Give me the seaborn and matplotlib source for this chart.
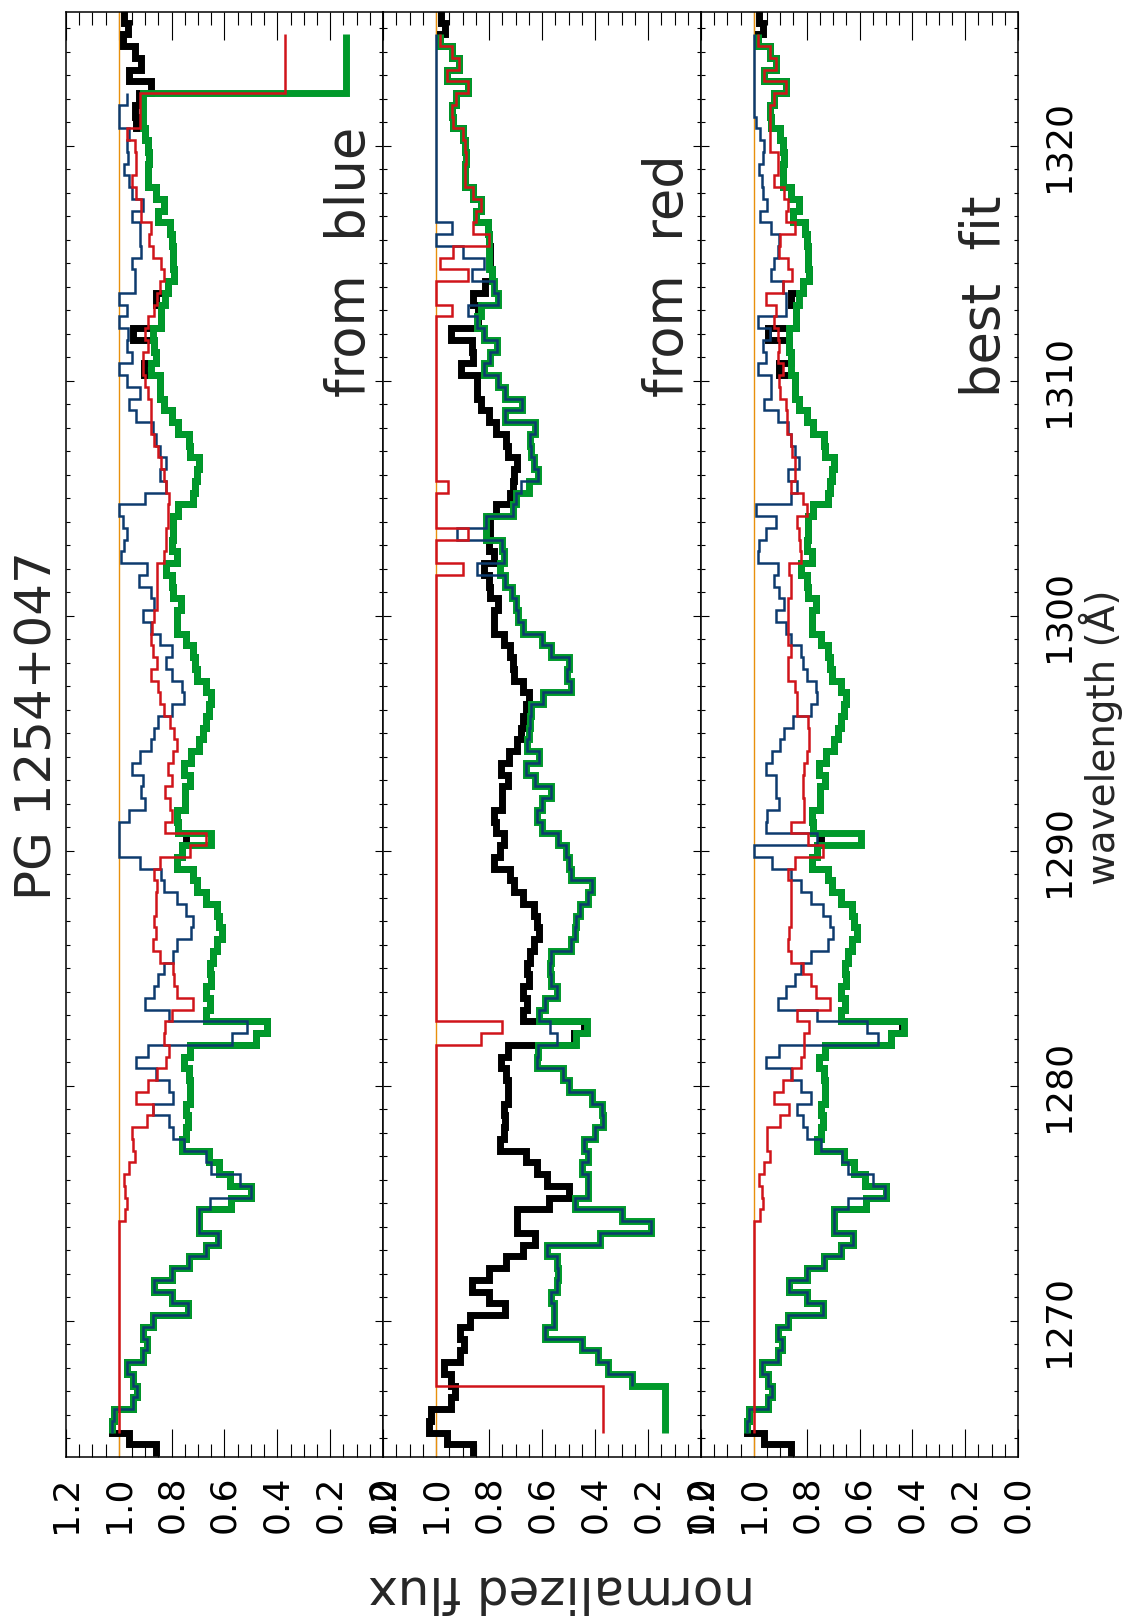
import numpy as np
import matplotlib
matplotlib.use("Agg")
import matplotlib.pyplot as plt
from matplotlib.ticker import MultipleLocator, FormatStrFormatter
import seaborn as sns

nan = np.nan

# ---------------- wavelength grid (bin centres, Angstrom), red -> blue ----------------
wave_first = 1325.5
wave_last = 1264.5
wave_bin = 0.5
wavelength = np.arange(wave_first, wave_last - wave_bin / 2, -wave_bin)

continuum_level = 1.0

# ---------------- observed normalized flux (black) ----------------
observed_flux = [
    0.98, 0.965, 0.985, 0.94, 0.915, 0.96, 0.88, 0.925, 0.94, 0.935,
    0.90, 0.89, 0.885, 0.89, 0.89, 0.86, 0.83, 0.85, 0.805, 0.80,
    0.795, 0.795, 0.79, 0.815, 0.86, 0.84, 0.84, 0.945, 0.865, 0.86,
    0.905, 0.845, 0.845, 0.83, 0.80, 0.775, 0.735, 0.73, 0.695, 0.705,
    0.71, 0.72, 0.775, 0.795, 0.795, 0.80, 0.78, 0.82, 0.80, 0.795,
    0.765, 0.78, 0.78, 0.745, 0.72, 0.71, 0.705, 0.67, 0.65, 0.66,
    0.67, 0.68, 0.695, 0.725, 0.755, 0.73, 0.75, 0.75, 0.78, 0.775,
    0.745, 0.76, 0.78, 0.72, 0.705, 0.67, 0.63, 0.62, 0.61, 0.63,
    0.645, 0.655, 0.65, 0.67, 0.655, 0.67, 0.44, 0.48, 0.73, 0.755,
    0.735, 0.73, 0.73, 0.745, 0.74, 0.745, 0.76, 0.66, 0.62, 0.58,
    0.50, 0.575, 0.695, 0.695, 0.625, 0.67, 0.735, 0.80, 0.865, 0.80,
    0.74, 0.87, 0.91, 0.895, 0.91, 0.97, 0.945, 0.93, 0.945, 1.02,
    1.025, 0.96, 0.86]

# ---------------- panel 1: "from blue" ----------------
fromblue_total = [
    nan, nan, 0.14, 0.14, 0.14, 0.14, 0.14, 0.91, 0.91, 0.91,
    0.90, 0.89, 0.885, 0.89, 0.89, 0.86, 0.83, 0.85, 0.805, 0.80,
    0.795, 0.795, 0.79, 0.815, 0.825, 0.84, 0.84, 0.87, 0.865, 0.86,
    0.88, 0.845, 0.845, 0.83, 0.80, 0.775, 0.735, 0.73, 0.695, 0.705,
    0.71, 0.72, 0.775, 0.795, 0.795, 0.80, 0.78, 0.82, 0.80, 0.795,
    0.765, 0.78, 0.78, 0.745, 0.72, 0.71, 0.705, 0.67, 0.65, 0.66,
    0.67, 0.68, 0.695, 0.725, 0.755, 0.73, 0.75, 0.75, 0.78, 0.775,
    0.65, 0.76, 0.78, 0.72, 0.705, 0.67, 0.63, 0.62, 0.61, 0.63,
    0.645, 0.655, 0.65, 0.67, 0.655, 0.67, 0.44, 0.48, 0.73, 0.755,
    0.735, 0.73, 0.73, 0.745, 0.74, 0.745, 0.76, 0.66, 0.62, 0.58,
    0.50, 0.575, 0.695, 0.695, 0.625, 0.67, 0.735, 0.80, 0.865, 0.80,
    0.74, 0.87, 0.91, 0.895, 0.91, 0.97, 0.945, 0.93, 0.945, 1.02,
    1.025, nan, nan]
fromblue_navy = [
    nan, nan, nan, nan, nan, nan, nan, 0.97, 1.0, 1.0,
    0.96, 0.97, 0.965, 0.98, 0.96, 0.95, 0.91, 0.95, 0.92, 0.92,
    0.915, 0.95, 0.94, 0.94, 1.0, 0.97, 1.0, 0.965, 0.97, 0.95,
    1.0, 0.97, 0.92, 0.96, 0.935, 0.87, 0.86, 0.845, 0.82, 0.845,
    0.82, 0.90, 1.0, 0.985, 0.97, 0.98, 0.99, 0.895, 0.925, 0.88,
    0.865, 0.91, 0.88, 0.845, 0.80, 0.82, 0.80, 0.76, 0.755, 0.80,
    0.85, 0.865, 0.88, 0.92, 0.95, 0.91, 0.915, 0.90, 0.96, 1.0,
    1.0, 1.0, 0.92, 0.84, 0.83, 0.78, 0.745, 0.72, 0.725, 0.78,
    0.795, 0.83, 0.85, 0.865, 0.90, 0.81, 0.515, 0.57, 0.89, 0.935,
    0.86, 0.81, 0.795, 0.87, 0.81, 0.795, 0.755, 0.67, 0.65, 0.54,
    0.50, 0.655, 0.695, 0.695, 0.625, 0.67, 0.735, 0.80, 0.865, 0.80,
    0.74, 0.87, 0.91, 0.895, 0.91, 0.97, 0.945, 0.93, 0.945, 1.02,
    1.025, nan, nan]
fromblue_red = [
    nan, nan, 0.37, 0.37, 0.37, 0.37, 0.37, 0.92, 0.92, 0.92,
    0.97, 0.94, 0.935, 0.935, 0.95, 0.935, 0.915, 0.915, 0.88, 0.885,
    0.87, 0.84, 0.83, 0.845, 0.855, 0.865, 0.89, 0.90, 0.89, 0.91,
    0.91, 0.90, 0.89, 0.88, 0.88, 0.88, 0.865, 0.85, 0.84, 0.83,
    0.82, 0.81, 0.815, 0.815, 0.82, 0.82, 0.83, 0.855, 0.855, 0.855,
    0.855, 0.865, 0.875, 0.88, 0.87, 0.855, 0.88, 0.85, 0.845, 0.83,
    0.805, 0.79, 0.78, 0.795, 0.815, 0.80, 0.825, 0.805, 0.80, 0.825,
    0.67, 0.73, 0.845, 0.865, 0.855, 0.86, 0.86, 0.865, 0.86, 0.87,
    0.845, 0.795, 0.79, 0.78, 0.72, 0.80, 0.825, 0.83, 0.81, 0.82,
    0.855, 0.89, 0.935, 0.87, 0.895, 0.95, 0.945, 0.94, 0.96, 0.98,
    0.975, 0.97, 0.975, 1.0, 1.0, 1.0, 1.0, 1.0, 1.0, 1.0,
    1.0, 1.0, 1.0, 1.0, 1.0, 1.0, 1.0, 1.0, 1.0, 1.0,
    1.0, nan, nan]

# ---------------- panel 2: "from red" ----------------
fromred_total = [
    nan, nan, 0.985, 0.94, 0.915, 0.96, 0.88, 0.925, 0.94, 0.935,
    0.90, 0.89, 0.885, 0.89, 0.89, 0.86, 0.83, 0.85, 0.805, 0.80,
    0.80, 0.80, 0.79, 0.78, 0.765, 0.83, 0.845, 0.82, 0.77, 0.795,
    0.82, 0.765, 0.74, 0.675, 0.74, 0.625, 0.645, 0.64, 0.63, 0.615,
    0.65, 0.70, 0.71, 0.81, 0.81, 0.75, 0.745, 0.76, 0.74, 0.715,
    0.70, 0.69, 0.67, 0.60, 0.565, 0.50, 0.505, 0.49, 0.595, 0.64,
    0.645, 0.65, 0.655, 0.61, 0.66, 0.625, 0.565, 0.60, 0.62, 0.60,
    0.54, 0.51, 0.50, 0.49, 0.41, 0.425, 0.455, 0.47, 0.475, 0.49,
    0.565, 0.57, 0.565, 0.545, 0.59, 0.61, 0.43, 0.47, 0.615, 0.62,
    0.52, 0.50, 0.41, 0.375, 0.37, 0.40, 0.44, 0.425, 0.45, 0.425,
    0.425, 0.475, 0.30, 0.19, 0.38, 0.58, 0.545, 0.54, 0.545, 0.565,
    0.555, 0.555, 0.59, 0.45, 0.39, 0.35, 0.26, 0.136, 0.136, 0.136,
    0.136, nan, nan]
fromred_navy = [
    nan, nan, 1.0, 1.0, 1.0, 1.0, 1.0, 1.0, 1.0, 1.0,
    1.0, 1.0, 1.0, 1.0, 1.0, 1.0, 1.0, 1.0, 0.94, 1.0,
    0.90, 0.82, 0.865, 0.78, 0.765, 0.88, 0.845, 0.82, 0.77, 0.795,
    0.82, 0.765, 0.74, 0.675, 0.74, 0.625, 0.645, 0.64, 0.63, 0.615,
    0.68, 0.70, 0.71, 0.81, 0.92, 0.75, 0.745, 0.845, 0.74, 0.715,
    0.70, 0.69, 0.67, 0.60, 0.565, 0.50, 0.505, 0.49, 0.595, 0.64,
    0.645, 0.65, 0.655, 0.61, 0.66, 0.625, 0.565, 0.60, 0.62, 0.60,
    0.54, 0.51, 0.50, 0.49, 0.41, 0.425, 0.455, 0.47, 0.475, 0.49,
    0.565, 0.57, 0.565, 0.545, 0.59, 0.61, 0.57, 0.545, 0.615, 0.62,
    0.52, 0.50, 0.41, 0.375, 0.37, 0.40, 0.44, 0.425, 0.45, 0.425,
    0.425, 0.475, 0.30, 0.19, 0.38, 0.58, 0.545, 0.54, 0.545, 0.565,
    0.555, 0.555, 0.59, 0.45, 0.39, 0.35, 0.26, nan, nan, nan,
    nan, nan, nan]
fromred_red = [
    nan, nan, 0.985, 0.94, 0.915, 0.96, 0.88, 0.925, 0.94, 0.935,
    0.90, 0.89, 0.885, 0.89, 0.89, 0.86, 0.83, 0.85, 0.86, 0.80,
    0.935, 0.985, 0.88, 1.0, 1.0, 0.94, 1.0, 1.0, 1.0, 1.0,
    1.0, 1.0, 1.0, 1.0, 1.0, 1.0, 1.0, 1.0, 1.0, 1.0,
    0.955, 1.0, 1.0, 1.0, 0.88, 1.0, 1.0, 0.90, 1.0, 1.0,
    1.0, 1.0, 1.0, 1.0, 1.0, 1.0, 1.0, 1.0, 1.0, 1.0,
    1.0, 1.0, 1.0, 1.0, 1.0, 1.0, 1.0, 1.0, 1.0, 1.0,
    1.0, 1.0, 1.0, 1.0, 1.0, 1.0, 1.0, 1.0, 1.0, 1.0,
    1.0, 1.0, 1.0, 1.0, 1.0, 1.0, 0.75, 0.83, 1.0, 1.0,
    1.0, 1.0, 1.0, 1.0, 1.0, 1.0, 1.0, 1.0, 1.0, 1.0,
    1.0, 1.0, 1.0, 1.0, 1.0, 1.0, 1.0, 1.0, 1.0, 1.0,
    1.0, 1.0, 1.0, 1.0, 1.0, 1.0, 1.0, 0.37, 0.37, 0.37,
    0.37, nan, nan]

# ---------------- panel 3: "best fit" ----------------
bestfit_total = [
    nan, nan, 0.985, 0.94, 0.915, 0.96, 0.88, 0.925, 0.94, 0.935,
    0.90, 0.89, 0.885, 0.89, 0.89, 0.86, 0.83, 0.85, 0.805, 0.80,
    0.795, 0.795, 0.79, 0.815, 0.83, 0.84, 0.84, 0.865, 0.865, 0.86,
    0.86, 0.845, 0.845, 0.83, 0.80, 0.775, 0.735, 0.73, 0.695, 0.705,
    0.71, 0.72, 0.775, 0.795, 0.795, 0.80, 0.78, 0.82, 0.80, 0.795,
    0.765, 0.78, 0.78, 0.745, 0.72, 0.71, 0.705, 0.67, 0.65, 0.66,
    0.67, 0.68, 0.695, 0.725, 0.755, 0.73, 0.75, 0.75, 0.78, 0.775,
    0.595, 0.76, 0.78, 0.72, 0.705, 0.67, 0.63, 0.62, 0.61, 0.63,
    0.645, 0.655, 0.65, 0.67, 0.655, 0.67, 0.43, 0.48, 0.73, 0.755,
    0.735, 0.73, 0.73, 0.745, 0.74, 0.745, 0.76, 0.66, 0.62, 0.58,
    0.50, 0.575, 0.695, 0.695, 0.625, 0.67, 0.735, 0.80, 0.865, 0.80,
    0.74, 0.87, 0.91, 0.895, 0.91, 0.97, 0.945, 0.93, 0.945, 1.02,
    1.025, nan, nan]
bestfit_navy = [
    nan, nan, 1.0, 1.0, 1.0, 1.0, 1.0, 1.0, 1.0, 0.99,
    0.975, 0.96, 0.965, 0.98, 0.97, 0.965, 0.95, 0.975, 0.935, 0.905,
    0.91, 0.925, 0.935, 0.89, 0.88, 0.88, 0.985, 0.94, 0.965, 0.955,
    0.985, 0.935, 0.935, 0.96, 0.91, 0.87, 0.86, 0.845, 0.83, 0.87,
    0.835, 0.86, 0.99, 0.915, 0.955, 0.98, 0.985, 0.91, 0.925, 0.905,
    0.885, 0.915, 0.88, 0.86, 0.82, 0.815, 0.80, 0.765, 0.76, 0.785,
    0.85, 0.885, 0.90, 0.93, 0.955, 0.915, 0.915, 0.905, 0.95, 0.955,
    0.76, 1.0, 0.93, 0.86, 0.82, 0.785, 0.74, 0.71, 0.70, 0.72,
    0.785, 0.82, 0.845, 0.88, 0.91, 0.76, 0.57, 0.53, 0.905, 0.955,
    0.86, 0.82, 0.785, 0.835, 0.815, 0.80, 0.745, 0.665, 0.645, 0.55,
    0.505, 0.645, 0.695, 0.695, 0.625, 0.67, 0.735, 0.80, 0.865, 0.80,
    0.74, 0.87, 0.91, 0.895, 0.91, 0.97, 0.945, 0.93, 0.945, 1.02,
    1.025, nan, nan]
bestfit_red = [
    nan, nan, 0.985, 0.94, 0.915, 0.96, 0.88, 0.925, 0.94, 0.94,
    0.94, 0.94, 0.91, 0.91, 0.925, 0.885, 0.87, 0.88, 0.845, 0.90,
    0.905, 0.87, 0.855, 0.89, 0.955, 0.915, 0.925, 0.91, 0.905, 0.91,
    0.89, 0.905, 0.90, 0.88, 0.875, 0.875, 0.86, 0.855, 0.845, 0.845,
    0.86, 0.815, 0.80, 0.835, 0.83, 0.825, 0.82, 0.865, 0.86, 0.86,
    0.87, 0.87, 0.87, 0.87, 0.86, 0.87, 0.87, 0.845, 0.835, 0.835,
    0.795, 0.79, 0.79, 0.80, 0.81, 0.815, 0.815, 0.81, 0.81, 0.86,
    0.795, 0.74, 0.845, 0.87, 0.86, 0.86, 0.86, 0.86, 0.865, 0.87,
    0.86, 0.815, 0.785, 0.765, 0.71, 0.835, 0.79, 0.81, 0.81, 0.82,
    0.855, 0.89, 0.925, 0.865, 0.90, 0.95, 0.95, 0.94, 0.96, 0.98,
    0.97, 0.965, 0.975, 1.0, 1.0, 1.0, 1.0, 1.0, 1.0, 1.0,
    1.0, 1.0, 1.0, 1.0, 1.0, 1.0, 1.0, 1.0, 1.0, 1.0,
    1.0, nan, nan]

panel_labels = ["from  blue", "from  red", "best  fit"]
panel_series = [
    (fromblue_total, fromblue_navy, fromblue_red),
    (fromred_total, fromred_navy, fromred_red),
    (bestfit_total, bestfit_navy, bestfit_red),
]
title_text = "PG 1254+047"
flux_label = "normalized flux"
wave_label = "wavelength (\u00c5)"

for arr in [observed_flux] + [s for trip in panel_series for s in trip]:
    assert len(arr) == len(wavelength), len(arr)

# ---------------- style ----------------
sns.set_theme(style="ticks")
plt.rcParams["font.family"] = ["DejaVu Sans"]
plt.rcParams["axes.linewidth"] = 1.1
plt.rcParams["axes.edgecolor"] = "black"
plt.rcParams["xtick.color"] = "black"
plt.rcParams["ytick.color"] = "black"

GREEN = "#00992b"
NAVY = "#0d3b6e"
RED = "#d0141a"
ORANGE = "#e8900c"

W, H = 1128, 1621
fig = plt.figure(figsize=(W / 100, H / 100), dpi=100)
fig.patch.set_facecolor("white")

lefts = [66, 383, 701]
widths = [317, 318, 317]
top_px, bot_px = 11.7, 1457
axes = [fig.add_axes([l / W, (H - bot_px) / H, w / W, (bot_px - top_px) / H])
        for l, w in zip(lefts, widths)]


def draw_steps(ax, values, color, lw, z):
    v = np.asarray(values, float)
    ok = np.flatnonzero(~np.isnan(v))
    i0, i1 = ok[0], ok[-1]
    flux = np.append(v[i0:i1 + 1], v[i1])
    edges = np.append(wavelength[i0:i1 + 1] + wave_bin / 2,
                      wavelength[i1] - wave_bin / 2)
    sns.lineplot(x=flux, y=edges, ax=ax, sort=False, estimator=None,
                 drawstyle="steps-pre", color=color, linewidth=lw, zorder=z,
                 solid_joinstyle="miter", solid_capstyle="butt")


for ax, (total, comp_a, comp_b), label in zip(axes, panel_series, panel_labels):
    ax.set_facecolor("white")
    ax.axvline(continuum_level, color=ORANGE, lw=1.0, zorder=1)
    draw_steps(ax, observed_flux, "black", 5.0, 2)
    draw_steps(ax, total, GREEN, 5.0, 3)
    draw_steps(ax, comp_a, NAVY, 1.8, 4)
    draw_steps(ax, comp_b, RED, 1.8, 5)

    ax.set_xlim(1.2, 0.0)
    ax.set_ylim(1264.21, 1325.71)
    ax.set_xlabel("")
    ax.set_ylabel("")
    ax.xaxis.set_major_locator(MultipleLocator(0.2))
    ax.xaxis.set_minor_locator(MultipleLocator(0.05))
    ax.xaxis.set_major_formatter(FormatStrFormatter("%.1f"))
    ax.yaxis.set_major_locator(MultipleLocator(10))
    ax.yaxis.set_minor_locator(MultipleLocator(1))
    ax.yaxis.set_major_formatter(FormatStrFormatter("%d"))
    ax.tick_params(axis="x", which="both", direction="in", top=True, bottom=True,
                   labelbottom=True, labeltop=False, labelrotation=90,
                   labelsize=26, pad=13)
    ax.tick_params(axis="x", which="major", length=20, width=0.8)
    ax.tick_params(axis="x", which="minor", length=9.5, width=0.8)
    ax.tick_params(axis="y", which="both", direction="in", left=True, right=True,
                   labelleft=False, labelright=False)
    ax.tick_params(axis="y", which="major", length=6, width=0.8)
    ax.tick_params(axis="y", which="minor", length=3, width=0.8)
    for s in ax.spines.values():
        s.set_linewidth(1.1)
        s.set_color("black")

    ax.text(0.07, 1309.3, label, rotation=90, rotation_mode="anchor",
            ha="left", va="baseline", fontsize=38, zorder=10)

axes[2].tick_params(axis="y", which="major", labelright=True, labelrotation=90,
                    labelsize=26, pad=17)
for lab in axes[2].get_yticklabels():
    lab.set_verticalalignment("center")

fig.text(52 / W, 1 - 726 / H, title_text, rotation=90, rotation_mode="anchor",
         ha="center", va="baseline", fontsize=36)
fig.text(562 / W, 1 - 1576 / H, flux_label, rotation=180, rotation_mode="anchor",
         ha="center", va="baseline", fontsize=36)
fig.text(1115 / W, 1 - 737 / H, wave_label, rotation=90, rotation_mode="anchor",
         ha="center", va="baseline", fontsize=28)

fig.savefig("out.png", dpi=100, facecolor="white")
